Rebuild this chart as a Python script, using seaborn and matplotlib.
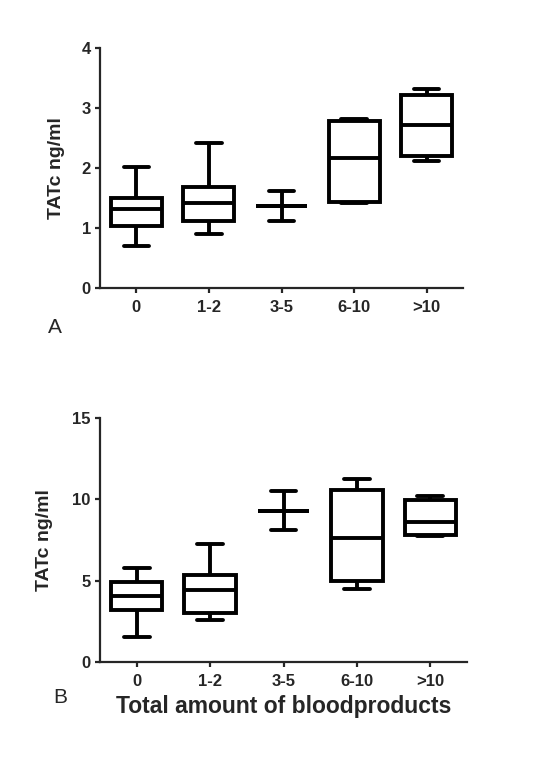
import numpy as np
import pandas as pd
import matplotlib
matplotlib.use("Agg")
import matplotlib.pyplot as plt
import seaborn as sns

# groups on the x axis
groups = ["0", "1-2", "3-5", "6-10", ">10"]

# panel A: five number summary per group (min, q1, median, q3, max)
a_min = [0.70, 0.90, 1.11, 1.41, 2.11]
a_q1 = [1.04, 1.11, 1.36, 1.44, 2.20]
a_med = [1.31, 1.41, 1.36, 2.17, 2.71]
a_q3 = [1.50, 1.68, 1.36, 2.79, 3.22]
a_max = [2.01, 2.41, 1.61, 2.82, 3.31]

# panel B
b_min = [1.52, 2.56, 8.09, 4.49, 7.73]
b_q1 = [3.22, 3.01, 9.26, 5.00, 7.83]
b_med = [4.04, 4.41, 9.26, 7.62, 8.61]
b_q3 = [4.92, 5.33, 9.26, 10.59, 9.94]
b_max = [5.78, 7.27, 10.53, 11.27, 10.18]


def make_df(mins, q1s, meds, q3s, maxs):
    rows = []
    for g, lo, a, m, b, hi in zip(groups, mins, q1s, meds, q3s, maxs):
        for v in (lo, a, m, b, hi):
            rows.append({"group": g, "value": v})
    return pd.DataFrame(rows)


df_a = make_df(a_min, a_q1, a_med, a_q3, a_max)
df_b = make_df(b_min, b_q1, b_med, b_q3, b_max)

sns.set_style("ticks")
plt.rcParams["font.family"] = ["Liberation Sans", "DejaVu Sans"]

fig = plt.figure(figsize=(5.38, 7.57), dpi=100)
ax1 = fig.add_axes([100 / 538, 1 - 288 / 757, 363 / 538, 240 / 757])
ax2 = fig.add_axes([100 / 538, 1 - 662 / 757, 367 / 538, 244 / 757])


def draw(ax, df, ymax, yticks):
    sns.boxplot(data=df, x="group", y="value", order=groups, whis=(0, 100),
                color="white", linecolor="black", linewidth=2.8, width=0.7,
                ax=ax)
    ax.set_xlim(-0.5, 4.5)
    ax.set_ylim(0, ymax)
    ax.set_yticks(yticks)
    sns.despine(ax=ax)
    for s in ["left", "bottom"]:
        ax.spines[s].set_linewidth(1.6)
    ax.tick_params(direction="out", length=3.6, width=1.6, labelsize=12)
    ax.tick_params(axis="x", pad=5)
    ax.tick_params(axis="y", pad=3)
    for lab in ax.get_xticklabels() + ax.get_yticklabels():
        lab.set_fontweight("bold")
    ax.set_xlabel("")
    ax.set_ylabel("TATc ng/ml", fontsize=14, fontweight="bold")


draw(ax1, df_a, 4, [0, 1, 2, 3, 4])
draw(ax2, df_b, 15, [0, 5, 10, 15])
ax1.yaxis.set_label_coords(-0.096, 0.5)
ax2.yaxis.set_label_coords(-0.128, 0.5)

ax2.set_xlabel("Total amount of bloodproducts", fontsize=16.5, fontweight="bold",
               labelpad=4)

fig.text(48 / 538, 1 - 333 / 757, "A", fontsize=15)
fig.text(53 / 538, 1 - 703 / 757, "B", fontsize=15)

fig.savefig("out.png", dpi=100)
